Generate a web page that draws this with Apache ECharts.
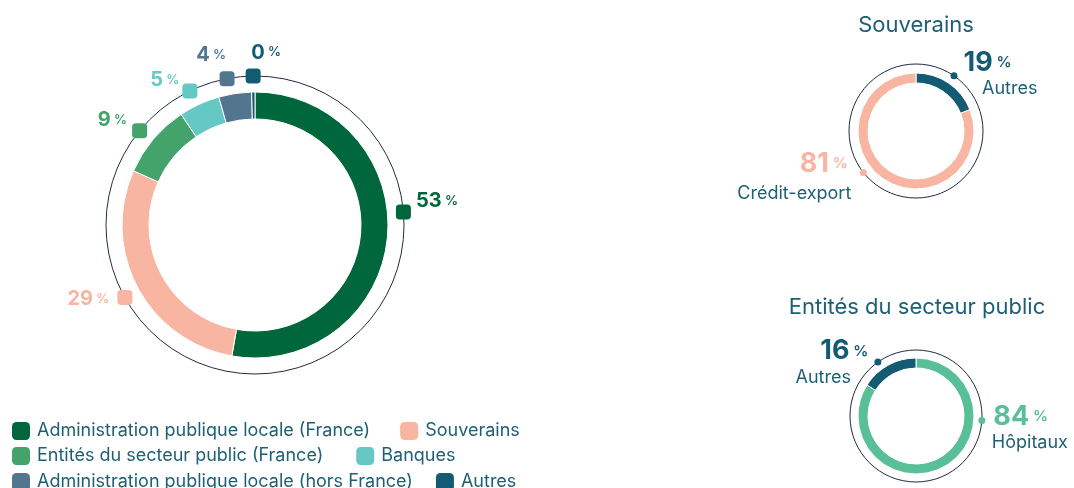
<!DOCTYPE html>
<html>
<head>
<meta charset="utf-8">
<script src="https://cdn.jsdelivr.net/npm/echarts@6/dist/echarts.min.js"></script>
<style>
  html, body { margin: 0; padding: 0; background: #fff; }
  #chart { width: 1074px; height: 488px; }
</style>
</head>
<body>
<div id="chart"></div>
<script>
// ---- Portfolio breakdown (percent) ----
const mainCategories = [
  'Administration publique locale (France)',
  'Souverains',
  'Entités du secteur public (France)',
  'Banques',
  'Administration publique locale (hors France)',
  'Autres'
];
const mainValues = [53, 29, 9, 5, 4, 0.4];

// ---- Souverains detail ----
const sovCategories = ['Autres', 'Crédit-export'];
const sovValues = [19, 81];

// ---- Entités du secteur public detail ----
const pubCategories = ['Hôpitaux', 'Autres'];
const pubValues = [84, 16];

// ---- Palette ----
const TEXT = '#1d5f74';
const RING_LINE = '#1f2a44';
const mainColors = ['#00673d', '#f8b5a2', '#43a36a', '#66c8c5', '#52768e', '#125b73'];
const sovColors = ['#125b73', '#f8b5a2'];
const pubColors = ['#59bf98', '#125b73'];

// Where each callout sits on the outer guide circle (percent of a turn, clockwise from top)
const mainAnchors = [23.6, 66.9, 85.9, 92.8, 97.0, 99.8];
const sovAnchors = [9.6, 64.4];
const pubAnchors = [26.1, 90.2];

const FONT = 'Inter, "Noto Sans", sans-serif';

function pctText(v) {
  return '{n|' + Math.round(v) + '}{p| %}';
}

// Callout placement for the main ring
const mainLabelPlace = [
  { position: 'right', distance: 5, offset: [0, -11] },
  { position: 'left', distance: 8, offset: [0, 1] },
  { position: 'left', distance: 5, offset: [0, -11] },
  { position: 'left', distance: 3, offset: [0, -11] },
  { position: 'top', distance: 6, offset: [-16, 0] },
  { position: 'top', distance: 6, offset: [13, 0] }
];

const MAIN_CENTER = [255, 225];
const SOV_CENTER = [916, 131];
const PUB_CENTER = [916, 416];

const polars = [
  { center: MAIN_CENTER, radius: 149 },
  { center: SOV_CENTER, radius: 67 },
  { center: PUB_CENTER, radius: 66 }
];

const angleAxes = polars.map((p, i) => ({
  polarIndex: i, type: 'value', min: 0, max: 100, startAngle: 90, clockwise: true,
  axisLine: { show: true, lineStyle: { color: RING_LINE, width: 1 } },
  axisTick: { show: false }, axisLabel: { show: false }, splitLine: { show: false }
}));
const radiusAxes = polars.map((p, i) => ({
  polarIndex: i, type: 'value', min: 0, max: 1,
  axisLine: { show: false }, axisTick: { show: false }, axisLabel: { show: false }, splitLine: { show: false }
}));

function pieSeries(names, values, colors, center, radius) {
  return {
    type: 'pie', center: center, radius: radius, startAngle: 90, clockwise: true,
    silent: true, label: { show: false }, labelLine: { show: false },
    itemStyle: { borderColor: '#fff', borderWidth: 1 },
    data: names.map((n, i) => ({ name: n, value: values[i], itemStyle: { color: colors[i] } })),
    z: 2
  };
}

// Main ring callouts: rounded square markers with the share next to them
const mainMarkers = {
  type: 'scatter', coordinateSystem: 'polar', polarIndex: 0, silent: true,
  symbol: 'roundRect', symbolSize: 15, z: 5,
  data: mainValues.map((v, i) => ({
    value: [1, mainAnchors[i]],
    itemStyle: { color: mainColors[i], opacity: 1 },
    label: Object.assign({
      show: true, color: mainColors[i], formatter: pctText(v),
      rich: {
        n: { fontFamily: FONT, fontSize: 20, fontWeight: 700, color: mainColors[i] },
        p: { fontFamily: FONT, fontSize: 13, fontWeight: 600, color: mainColors[i] }
      }
    }, mainLabelPlace[i])
  }))
};

function detailMarkers(polarIndex, values, names, colors, anchors, numPlace, namePlace) {
  const dots = {
    type: 'scatter', coordinateSystem: 'polar', polarIndex: polarIndex, silent: true,
    symbol: 'circle', symbolSize: 7, z: 5,
    data: values.map((v, i) => ({
      value: [1, anchors[i]],
      itemStyle: { color: colors[i], opacity: 1 },
      label: Object.assign({
        show: true, formatter: pctText(v),
        rich: {
          n: { fontFamily: FONT, fontSize: 27, fontWeight: 700, color: colors[i], letterSpacing: -1 },
          p: { fontFamily: FONT, fontSize: 15, fontWeight: 600, color: colors[i] }
        }
      }, numPlace[i])
    }))
  };
  const captions = {
    type: 'scatter', coordinateSystem: 'polar', polarIndex: polarIndex, silent: true,
    symbolSize: 0, z: 5,
    data: values.map((v, i) => ({
      value: [1, anchors[i]],
      itemStyle: { opacity: 1 },
      label: Object.assign({
        show: true, formatter: names[i], color: TEXT,
        fontFamily: FONT, fontSize: 18
      }, namePlace[i])
    }))
  };
  return [dots, captions];
}

const sovSeries = detailMarkers(1, sovValues, sovCategories, sovColors, sovAnchors,
  [ { position: 'right', distance: 6, offset: [0, -13] },
    { position: 'left', distance: 12, offset: [0, -9] } ],
  [ { position: 'right', distance: 28, offset: [0, 13] },
    { position: 'left', distance: 12, offset: [0, 21] } ]);

const pubSeries = detailMarkers(2, pubValues, pubCategories, pubColors, pubAnchors,
  [ { position: 'right', distance: 8, offset: [0, -4] },
    { position: 'left', distance: 6, offset: [0, -11] } ],
  [ { position: 'right', distance: 10, offset: [0, 22] },
    { position: 'left', distance: 27, offset: [0, 15] } ]);

function legendRow(names, top, gap) {
  return {
    left: 12, top: top, orient: 'horizontal', itemGap: gap, padding: 0,
    itemWidth: 18, itemHeight: 18, icon: 'roundRect', itemStyle: { borderWidth: 0 },
    selectedMode: false,
    textStyle: { color: TEXT, fontFamily: FONT, fontSize: 18, padding: [0, 0, 0, 2] },
    data: names
  };
}

const option = {
  animation: false,
  title: [
    { text: 'Souverains', left: 911, top: 9, textAlign: 'center',
      textStyle: { color: TEXT, fontFamily: FONT, fontSize: 22, fontWeight: 400 } },
    { text: 'Entités du secteur public', left: 912, top: 291, textAlign: 'center',
      textStyle: { color: TEXT, fontFamily: FONT, fontSize: 22, fontWeight: 400 } }
  ],
  legend: [
    legendRow([mainCategories[0], mainCategories[1]], 422, 30),
    legendRow([mainCategories[2], mainCategories[3]], 447, 33),
    legendRow([mainCategories[4], mainCategories[5]], 473, 23)
  ],
  polar: polars,
  angleAxis: angleAxes,
  radiusAxis: radiusAxes,
  series: [
    pieSeries(mainCategories, mainValues, mainColors, MAIN_CENTER, [106, 133]),
    pieSeries(sovCategories, sovValues, sovColors, SOV_CENTER, [48, 58]),
    pieSeries(pubCategories, pubValues, pubColors, PUB_CENTER, [48, 58]),
    mainMarkers
  ].concat(sovSeries, pubSeries)
};

const chart = echarts.init(document.getElementById('chart'), null, { renderer: 'canvas' });
chart.setOption(option);
</script>
</body>
</html>
